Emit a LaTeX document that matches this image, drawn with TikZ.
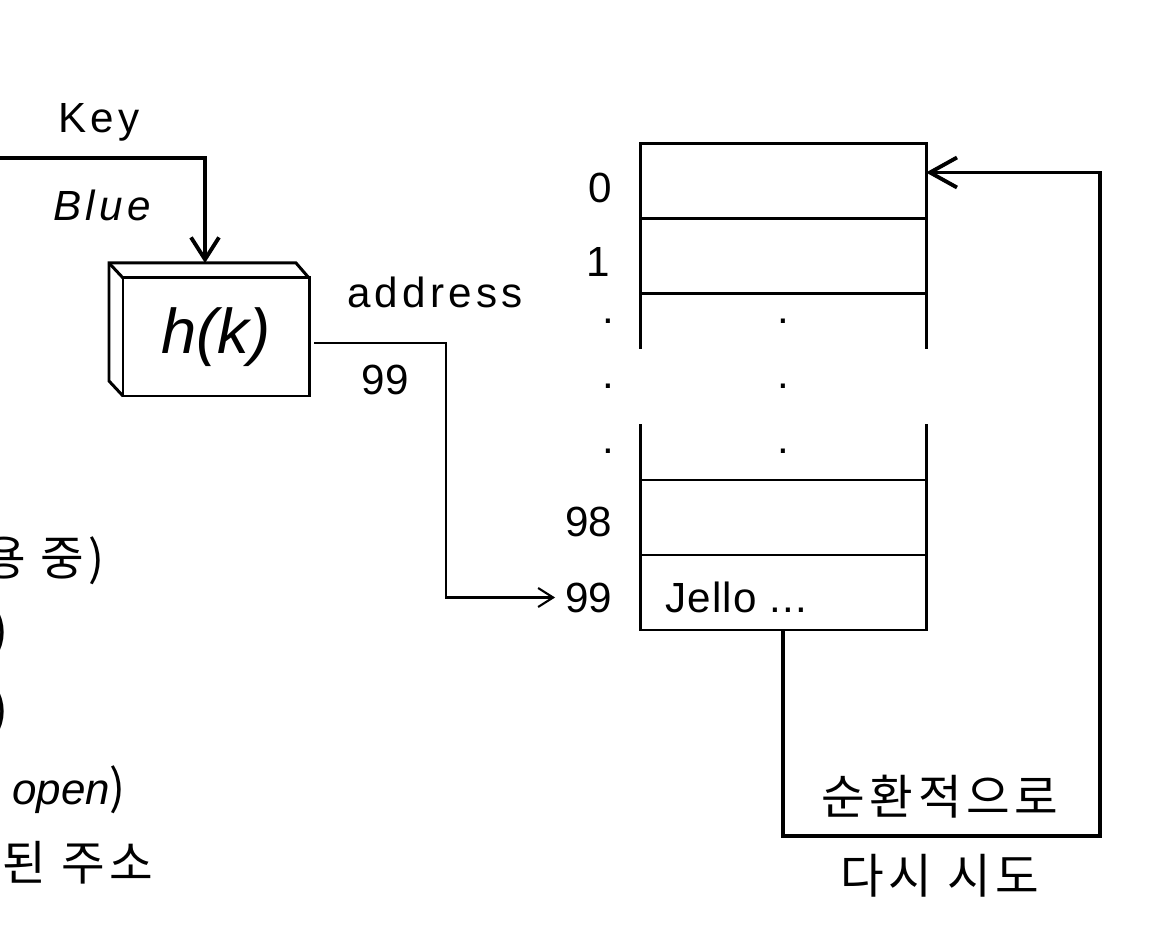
\documentclass[tikz,border=0pt]{standalone}
\usepackage{fontspec}
\setmainfont{Liberation Sans}
\newfontfamily\lat[LetterSpace=10]{Liberation Sans}
\newfontfamily\kr[LetterSpace=9.5]{Noto Sans CJK KR}
\usetikzlibrary{arrows.meta,positioning,calc}

\begin{document}
\begin{tikzpicture}[every node/.style={font=\fontsize{12}{14}\selectfont,inner sep=0pt,outer sep=0pt},
  cell/.style={draw,line width=0.85pt,minimum width=2.86cm,minimum height=0.75cm},
  idx/.style={anchor=east},
  word/.style={font=\fontsize{12}{14}\selectfont\lat},
  hashbox/.style={draw,line width=0.85pt,minimum width=1.86cm,minimum height=1.18cm,font=\fontsize{18}{20}\selectfont\itshape},
  krtext/.style={font=\fontsize{13.5}{16}\selectfont\kr},
  keyline/.style={line width=1.1pt,-{Straight Barb[length=2.2mm,width=2.8mm]}},
  retry/.style={line width=1.1pt,-{Straight Barb[length=2.7mm,width=3mm]}},
  addr/.style={line width=0.6pt,-{Straight Barb[length=1.5mm,width=1.9mm]}}]
\useasboundingbox (0,0) rectangle (11.7,-9.48);
\clip (0,0) rectangle (11.7,-9.48);
% hash function
\node[hashbox] (hash) at (2.16,-3.37) {h(k)};
\draw[line width=0.85pt] (hash.north east) -- ++(-0.13,0.15) -- ++(-1.87,0) -- ++(0,-1.18) -- (hash.south west);
\draw[line width=0.85pt] (hash.north west) -- ++(-0.14,0.15);
\coordinate (kin) at (0,-1.58);
\coordinate (htop) at (2.05,-2.63);
\draw[keyline] (kin) -| (htop);
\node[word] (key) at (0.99,-1.22) {Key};
\node[word] (blue) at (1.02,-2.05) {\itshape Blue};
\node[word] (address) at (4.35,-2.92) {address};
\node (hval) at (3.85,-3.80) {99};
% table
\node[cell] (r0) at (7.83,-1.815) {};
\node[cell,below=0 of r0] (r1) {};
\node[cell] (r98) at (7.83,-5.175) {};
\node[cell,below=0 of r98] (r99) {};
\draw[line width=0.85pt] (r1.south west) -- ++(0,-0.55) (r1.south east) -- ++(0,-0.55)
  (r98.north west) -- ++(0,0.56) (r98.north east) -- ++(0,0.56);
\node[idx,left=0.28cm of r0.west,yshift=-0.06cm] (l0) {0};
\node[idx,left=0.3cm of r1.west,yshift=-0.05cm] (l1) {1};
\node[idx,left=0.28cm of r98.west,yshift=-0.04cm] (l98) {98};
\node[idx,left=0.28cm of r99.west,yshift=-0.05cm] (l99) {99};
\foreach \y [count=\i] in {3.21,3.86,4.51} {
  \node (ld\i) at (6.08,-\y) {.};
  \node (cd\i) at (7.83,-\y) {.};
}
\node[anchor=west,font=\fontsize{12}{14}\selectfont\addfontfeature{LetterSpace=3}] (jello) at ($(r99.west)+(0.25,-0.05)$) {Jello ...};
\coordinate (hout) at (3.14,-3.43);
\draw[addr] (hout) -- ++(1.32,0) |- ([xshift=-0.1cm]l99.west);
% retry loop
\coordinate (lr) at (11.0,-8.36);
\draw[retry] (r99.south) |- (lr) |- ([yshift=0.09cm]r0.east);
\node[krtext] (circ) at (9.40,-7.97) {순환적으로};
\node[krtext] (again) at (9.40,-8.76) {다시 시도};
% cut-off notes
\node[krtext,anchor=east] (s1) at (1.05,-5.61) {용 중)};
\node[krtext,anchor=east] (s2) at (0.09,-6.33) {)};
\node[krtext,anchor=east] (s3) at (0.09,-7.12) {)};
\node[krtext,anchor=east] (s4) at (1.26,-7.90) {{\fontsize{12.5}{14}\selectfont\rmfamily\itshape open})};
\node[krtext,anchor=east] (s5) at (1.53,-8.63) {된 주소};
\end{tikzpicture}
\end{document}
